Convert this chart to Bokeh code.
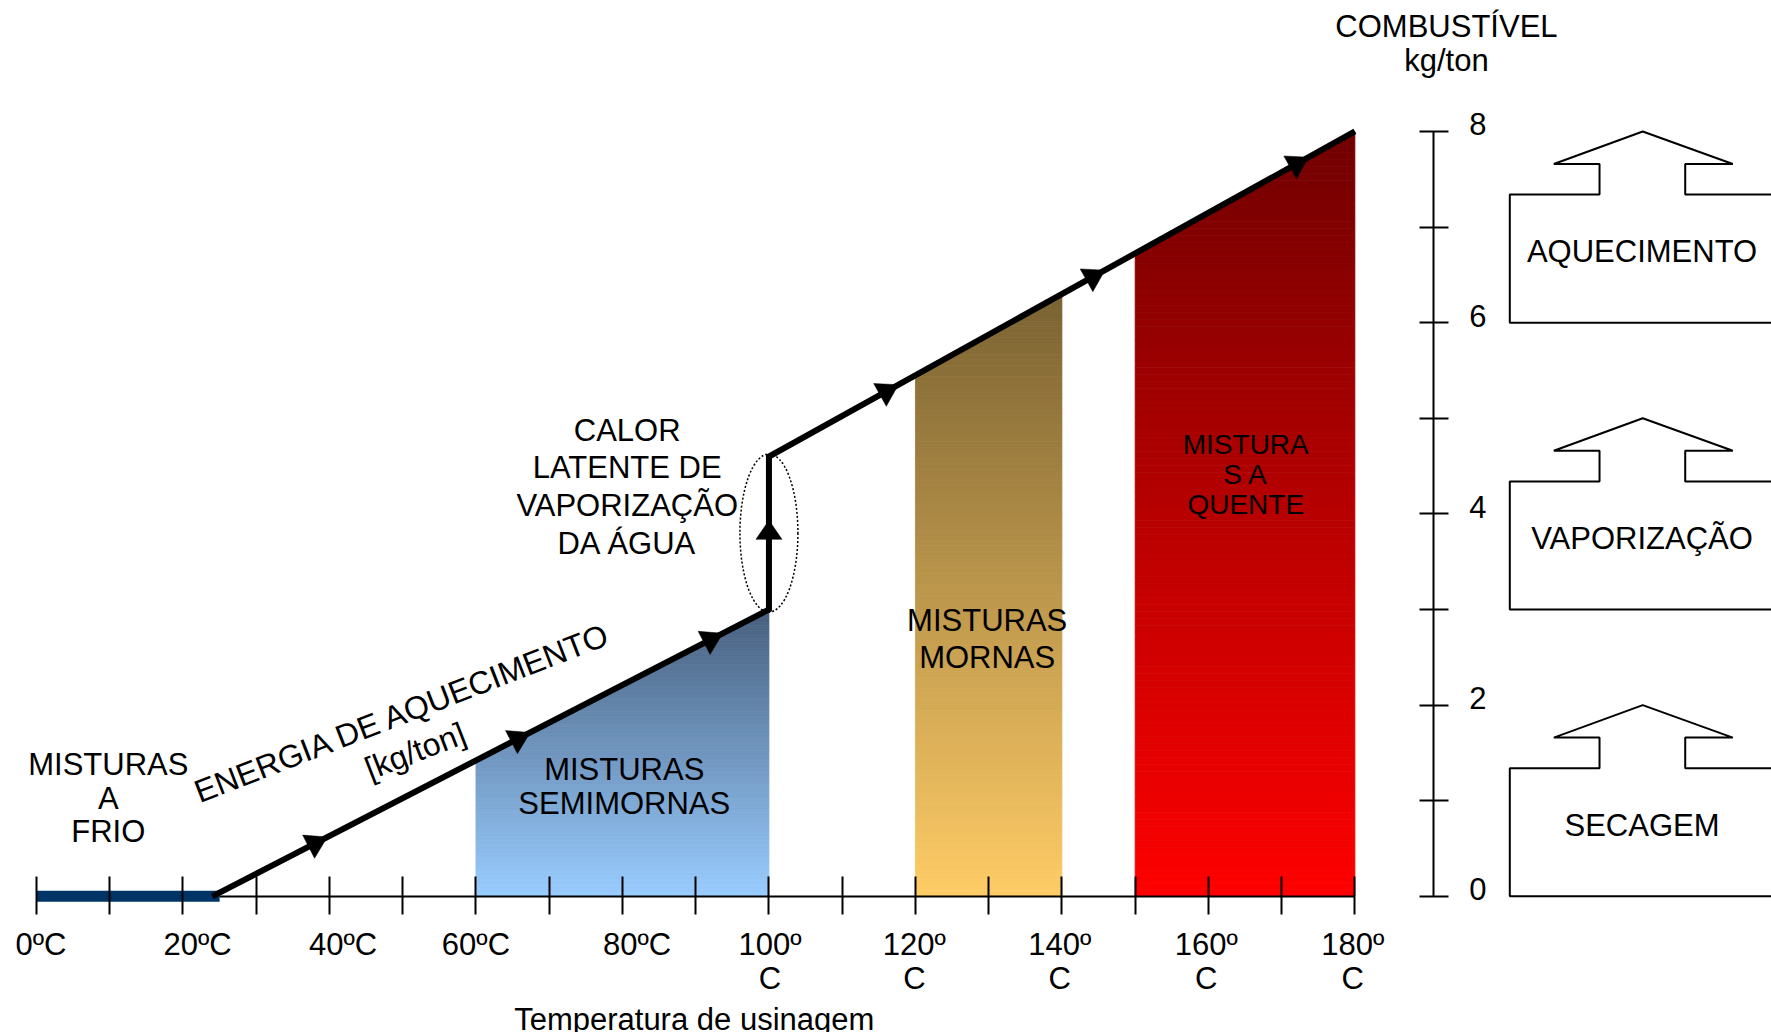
import numpy as np
from bokeh.plotting import figure
from bokeh.models import Range1d, LinearAxis, FixedTicker
from bokeh.core.properties import value
from bokeh.embed import file_html
from bokeh.resources import INLINE

# ---------------- data ----------------
temp_major = [0, 20, 40, 60, 80, 100, 120, 140, 160, 180]
temp_minor = [10, 30, 50, 70, 90, 110, 130, 150, 170]
temp_labels = ["0ºC", "20ºC", "40ºC", "60ºC", "80ºC",
               "100º\nC", "120º\nC", "140º\nC", "160º\nC", "180º\nC"]
fuel_major = [0, 2, 4, 6, 8]
fuel_minor = [1, 3, 5, 7]
fuel_labels = ["0", "2", "4", "6", "8"]

# heating-energy curve: temperature (ºC) vs fuel (kg/ton)
curve_temp = [24, 100, 100, 180]
curve_fuel = [0.0, 3.0, 4.6, 8.0]
arrow_temp = [38, 65.7, 92, 116, 144.2, 172]
vapor_arrow_fuel = 3.8

cold_temp = [0, 25]

mix_names = ["MISTURAS\nSEMIMORNAS", "MISTURAS\nMORNAS", "MISTURA\nS A\nQUENTE"]
mix_from = [60, 120, 150]
mix_to = [100, 140, 180]

stage_names = ["SECAGEM", "VAPORIZAÇÃO", "AQUECIMENTO"]
stage_from = [0, 3, 6]
stage_to = [2, 5, 8]

# ---------------- figure ----------------
W, H = 1771, 1032
X0, X1 = -4.915, 236.88
Y0, Y1 = -1.4247, 9.370
SX = W / (X1 - X0)
SY = H / (Y1 - Y0)
FONT = value("Liberation Sans")

p = figure(width=W, height=H, x_range=Range1d(X0, X1), y_range=Range1d(Y0, Y1),
           output_backend="svg", toolbar_location=None,
           x_axis_type=None, y_axis_type=None, min_border=0,
           outline_line_color=None, background_fill_color="white",
           border_fill_color="white")


def curve_at(x, upper):
    if upper:
        return float(np.interp(x, curve_temp[2:], curve_fuel[2:]))
    return float(np.interp(x, curve_temp[:2], curve_fuel[:2]))


def clip(poly, yc, keep_above):
    out = []
    n = len(poly)
    for i in range(n):
        a = poly[i]
        b = poly[(i + 1) % n]
        ain = a[1] >= yc if keep_above else a[1] <= yc
        bin_ = b[1] >= yc if keep_above else b[1] <= yc
        if ain:
            out.append(a)
        if ain != bin_:
            t = (yc - a[1]) / (b[1] - a[1])
            out.append((a[0] + t * (b[0] - a[0]), yc))
    return out


# gradient fills of the mixture regions
grad_top = [(71, 96, 126), (122, 98, 50), (112, 0, 0)]
grad_bot = [(153, 204, 255), (255, 204, 102), (255, 0, 0)]
NB = 110
for i in range(len(mix_names)):
    a, b = mix_from[i], mix_to[i]
    upper = a >= 100
    la, lb = curve_at(a, upper), curve_at(b, upper)
    poly = [(a, 0.0), (b, 0.0), (b, lb), (a, la)]
    ymax = max(la, lb)
    xs, ys, cols = [], [], []
    for k in range(NB):
        y0 = ymax * k / NB
        y1 = ymax * (k + 1) / NB
        band = clip(clip(poly, y0, True), y1, False)
        if len(band) < 3:
            continue
        t = (k + 0.5) / NB
        c = tuple(int(round(grad_bot[i][j] + (grad_top[i][j] - grad_bot[i][j]) * t)) for j in range(3))
        col = "#%02x%02x%02x" % c
        xs.append([q[0] for q in band])
        ys.append([q[1] for q in band])
        cols.append(col)
    p.patches(xs, ys, fill_color=cols, line_color=cols, line_width=0.8)

# cold-mix bar
p.segment(x0=[cold_temp[0]], y0=[0], x1=[cold_temp[1]], y1=[0],
          line_color="#003366", line_width=11, line_cap="butt")

# curve
p.line(curve_temp, curve_fuel, line_color="black", line_width=6, line_join="miter")


def tri(cx, cy, ux, uy, h=21.0, w=26.0):
    px, py = cx * SX, cy * SY
    nx, ny = -uy, ux
    pts = [(px + ux * 2 * h / 3, py + uy * 2 * h / 3),
           (px - ux * h / 3 + nx * w / 2, py - uy * h / 3 + ny * w / 2),
           (px - ux * h / 3 - nx * w / 2, py - uy * h / 3 - ny * w / 2)]
    return [q[0] / SX for q in pts], [q[1] / SY for q in pts]


txs, tys = [], []
for t in arrow_temp:
    upper = t > 100
    seg_x = curve_temp[2:] if upper else curve_temp[:2]
    seg_y = curve_fuel[2:] if upper else curve_fuel[:2]
    dx = (seg_x[1] - seg_x[0]) * SX
    dy = (seg_y[1] - seg_y[0]) * SY
    L = (dx * dx + dy * dy) ** 0.5
    a, b = tri(t, curve_at(t, upper), dx / L, dy / L)
    txs.append(a)
    tys.append(b)
a, b = tri(curve_temp[1], vapor_arrow_fuel, 0.0, 1.0, h=19.0)
txs.append(a)
tys.append(b)
p.patches(txs, tys, fill_color="black", line_color="black", line_width=0.5)

# dotted ellipse around the latent heat step
p.ellipse(x=[curve_temp[1]], y=[vapor_arrow_fuel], width=58 / SX, height=158 / SY,
          fill_color=None, line_color="black", line_dash="2 2", line_width=1.5)

# stage "house" boxes on the right
bx, by = [], []
for b0, b1 in zip(stage_from, stage_to):
    hgt = b1 - b0
    r = b0 + 0.67 * hgt
    s = b0 + 0.83 * hgt
    xs = [201.15, 201.15, 213.4, 213.4, 207.16, 219.3, 231.6, 225.1, 225.1, 250, 250]
    ys = [b0, r, r, s, s, b1, s, s, r, r, b0]
    bx.append(xs)
    by.append(ys)
p.patches(bx, by, fill_color=None, line_color="black", line_width=2)


def label(x, y, t, size="31px", lh=0.96, angle=0.0, align="center", baseline="middle"):
    p.text(x=[x], y=[y], text=[t], text_font=FONT, text_font_size=value(size),
           text_align=align, text_baseline=baseline, text_line_height=lh,
           angle=angle, text_color="black")


for nm, b0 in zip(stage_names, stage_from):
    label(219.2, b0 + 0.74, nm)

mix_pos = [(80.25, 1.148, "31px", 0.97), (129.8, 2.69, "31px", 1.075), (165.1, 4.413, "28px", 0.97)]
for nm, (x, y, sz, lh) in zip(mix_names, mix_pos):
    label(x, y, nm, size=sz, lh=lh)

label(9.8, 1.028, "MISTURAS\nA\nFRIO", lh=0.96)
label(80.65, 4.285, "CALOR\nLATENTE DE\nVAPORIZAÇÃO\nDA ÁGUA", lh=1.075)
ang = np.radians(21.2)
label(50.0, 1.92, "ENERGIA DE AQUECIMENTO", size="32px", angle=ang)
label(51.7, 1.52, "[kg/ton]", size="32px", angle=ang)
label(192.5, 8.917, "COMBUSTÍVEL\nkg/ton", lh=0.98)
label(89.8, -1.287, "Temperatura de usinagem")

# tick labels of the temperature axis (placed as in the original drawing)
temp_label_shift = [0.6, 2.0, 1.85, 0.0, 2.0, 0.15, -0.15, -0.3, -0.3, -0.3]
for t, lab, sh in zip(temp_major, temp_labels, temp_label_shift):
    label(t + sh, -(18 + 13) / SY, lab, lh=0.955, baseline="top")

# tick labels of the fuel axis (sitting slightly above their ticks)
for f, lab in zip(fuel_major, fuel_labels):
    label(190.7 + 36 / SX, f + 7 / SY, lab, align="left")

# ---------------- axes ----------------
xaxis = LinearAxis(fixed_location=0, bounds=(0, 180),
                   ticker=FixedTicker(ticks=temp_major, minor_ticks=temp_minor),
                   axis_line_color=None,
                   major_tick_in=20, major_tick_out=18, minor_tick_in=20, minor_tick_out=18,
                   major_tick_line_width=2, minor_tick_line_width=2,
                   major_tick_line_color="black", minor_tick_line_color="black",
                   major_label_text_font_size="0px", major_label_text_alpha=0)
p.add_layout(xaxis, "below")

xline = LinearAxis(fixed_location=0, bounds=(25, 180), ticker=FixedTicker(ticks=[]),
                   axis_line_color="black", axis_line_width=2,
                   major_tick_line_color=None, minor_tick_line_color=None,
                   major_label_text_font_size="0px")
p.add_layout(xline, "below")

yaxis = LinearAxis(fixed_location=190.7, bounds=(0, 8),
                   ticker=FixedTicker(ticks=fuel_major, minor_ticks=fuel_minor),
                   axis_line_color="black", axis_line_width=2,
                   major_tick_in=14, major_tick_out=15, minor_tick_in=14, minor_tick_out=15,
                   major_tick_line_width=2, minor_tick_line_width=2,
                   major_tick_line_color="black", minor_tick_line_color="black",
                   major_label_text_font_size="0px", major_label_text_alpha=0)
p.add_layout(yaxis, "right")

open("out.html", "w").write(file_html(p, INLINE))
